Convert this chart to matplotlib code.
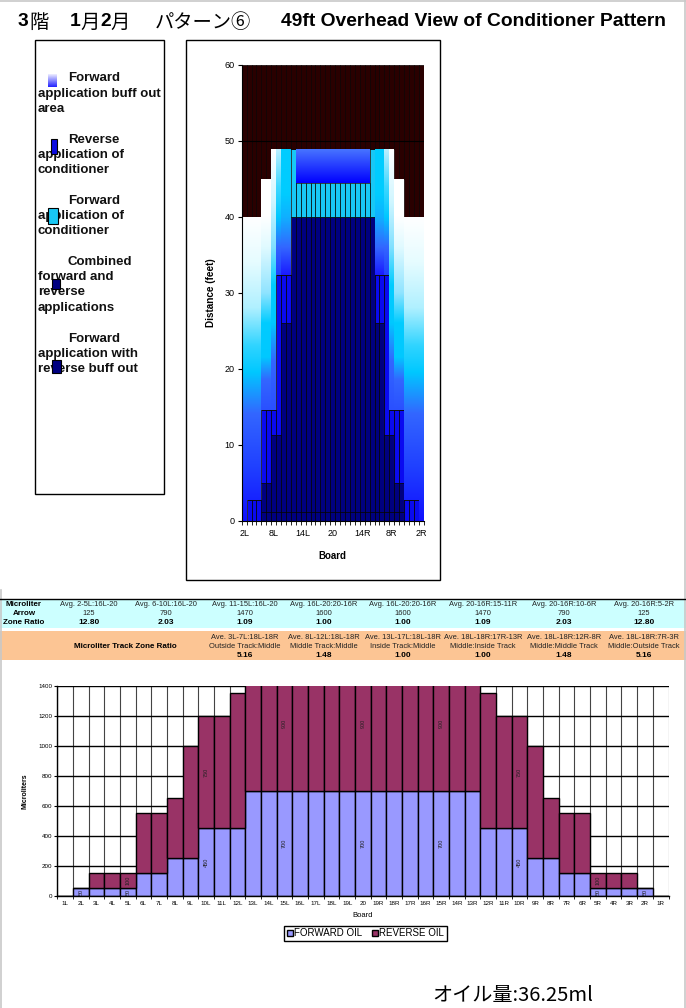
import numpy as np
import matplotlib
matplotlib.use("Agg")
import matplotlib.pyplot as plt
from matplotlib.patches import Rectangle
from matplotlib.colors import to_rgb
from matplotlib.lines import Line2D

plt.rcParams['font.family'] = ['Liberation Sans', 'Noto Sans CJK JP', 'DejaVu Sans']

# ---------------- data ----------------
top_boards = ['2L', '3L', '4L', '5L', '6L', '7L', '8L', '9L', '10L', '11L', '12L', '13L', '14L',
              '15L', '16L', '17L', '18L', '19L', '20', '19R', '18R', '17R', '16R', '15R', '14R',
              '13R', '12R', '11R', '10R', '9R', '8R', '7R', '6R', '5R', '4R', '3R', '2R']
fwd_rev_buff = [0, 0, 0, 0, 1.15, 1.15, 1.15, 1.15, 1.15, 1.15, 1.15, 1.15, 1.15, 1.15, 1.15, 1.15,
                1.15, 1.15, 1.15, 1.15, 1.15, 1.15, 1.15, 1.15, 1.15, 1.15, 1.15, 1.15, 1.15, 1.15,
                1.15, 1.15, 1.15, 0, 0, 0, 0]
combined = [0, 0, 0, 0, 3.85, 3.85, 10.15, 10.15, 24.85, 24.85, 38.85, 38.85, 38.85, 38.85, 38.85,
            38.85, 38.85, 38.85, 38.85, 38.85, 38.85, 38.85, 38.85, 38.85, 38.85, 38.85, 38.85,
            24.85, 24.85, 10.15, 10.15, 3.85, 3.85, 0, 0, 0, 0]
reverse_app = [0, 2.7, 2.7, 2.7, 9.6, 9.6, 3.3, 21.1, 6.4, 6.4, 0, 0, 0, 0, 0, 0, 0, 0, 0, 0, 0, 0,
               0, 0, 0, 0, 0, 6.4, 6.4, 21.1, 3.3, 9.6, 9.6, 2.7, 2.7, 2.7, 0]
forward_app = [0, 0, 0, 0, 0, 0, 0, 0, 0, 0, 9.0, 4.5, 4.5, 4.5, 4.5, 4.5, 4.5, 4.5, 4.5, 4.5, 4.5,
               4.5, 4.5, 4.5, 4.5, 4.5, 9.0, 0, 0, 0, 0, 0, 0, 0, 0, 0, 0]
buff_out = [40, 37.3, 37.3, 37.3, 30.4, 30.4, 34.4, 16.6, 16.6, 16.6, 0, 4.5, 4.5, 4.5, 4.5, 4.5,
            4.5, 4.5, 4.5, 4.5, 4.5, 4.5, 4.5, 4.5, 4.5, 4.5, 0, 16.6, 16.6, 16.6, 34.4, 30.4,
            30.4, 37.3, 37.3, 37.3, 40]
lane_end_low = [10, 10, 10, 10, 5, 5, 1, 1, 1, 1, 1, 1, 1, 1, 1, 1, 1, 1, 1, 1, 1, 1, 1, 1, 1, 1,
                1, 1, 1, 1, 1, 5, 5, 10, 10, 10, 10]
lane_end_high = [10] * 37

oil_boards = ['1L', '2L', '3L', '4L', '5L', '6L', '7L', '8L', '9L', '10L', '11L', '12L', '13L',
              '14L', '15L', '16L', '17L', '18L', '19L', '20', '19R', '18R', '17R', '16R', '15R',
              '14R', '13R', '12R', '11R', '10R', '9R', '8R', '7R', '6R', '5R', '4R', '3R', '2R', '1R']
forward_oil = [0, 50, 50, 50, 50, 150, 150, 250, 250, 450, 450, 450, 700, 700, 700, 700, 700, 700,
               700, 700, 700, 700, 700, 700, 700, 700, 700, 450, 450, 450, 250, 250, 150, 150, 50,
               50, 50, 50, 0]
reverse_oil = [0, 0, 100, 100, 100, 400, 400, 400, 750, 750, 750, 900, 900, 900, 900, 900, 900, 900,
               900, 900, 900, 900, 900, 900, 900, 900, 900, 900, 750, 750, 750, 400, 400, 400, 100,
               100, 100, 0, 0]
labelled_boards = ['2L', '5L', '10L', '15L', '20', '15R', '10R', '5R', '2R']

arrow_heads = ['Avg. 2-5L:16L-20', 'Avg. 6-10L:16L-20', 'Avg. 11-15L:16L-20', 'Avg. 16L-20:20-16R',
               'Avg. 16L-20:20-16R', 'Avg. 20-16R:15-11R', 'Avg. 20-16R:10-6R', 'Avg. 20-16R:5-2R']
arrow_vals = ['125', '790', '1470', '1600', '1600', '1470', '790', '125']
arrow_ratio = ['12.80', '2.03', '1.09', '1.00', '1.00', '1.09', '2.03', '12.80']
track_heads = ['Ave. 3L-7L:18L-18R', 'Ave. 8L-12L:18L-18R', 'Ave. 13L-17L:18L-18R',
               'Ave. 18L-18R:17R-13R', 'Ave. 18L-18R:12R-8R', 'Ave. 18L-18R:7R-3R']
track_desc = ['Outside Track:Middle', 'Middle Track:Middle', 'Inside Track:Middle',
              'Middle:Inside Track', 'Middle:Middle Track', 'Middle:Outside Track']
track_ratio = ['5.16', '1.48', '1.00', '1.00', '1.48', '5.16']

# gradient styles for buff-out segments (absolute feet, colour)
grad_styles = {
    'A': [(0, '#1010ff'), (7, '#2040ff'), (14, '#3366ff'), (19.5, '#00c8ff'), (23, '#30d4ff'),
          (28, '#b0f0ff'), (34, '#e6fcff'), (40, '#ffffff')],
    'B': [(14.6, '#2a50ff'), (18.5, '#3366ff'), (21.5, '#00c8ff'), (26, '#00ccff'), (30, '#90e4ff'),
          (36, '#e0faff'), (40, '#ffffff'), (45, '#ffffff')],
    'C': [(14.6, '#2a50ff'), (21, '#3366ff'), (26, '#00c8ff'), (31, '#00ccff'), (36, '#80e0ff'),
          (42, '#d0f6ff'), (49, '#ffffff')],
    'D': [(32.4, '#2040ff'), (36, '#3366ff'), (40, '#00c8ff'), (44, '#40d8ff'), (49, '#c0f0ff')],
    'E': [(32.4, '#1a1aff'), (36, '#3366ff'), (40, '#10b0ff'), (43, '#00ccff'), (49, '#00ccff')],
    'F': [(44.5, '#0000ff'), (49, '#4a78ff')],
    '-': [(0, '#ffffff'), (60, '#ffffff')],
}
buff_style = ['A', 'A', 'A', 'A', 'B', 'B', 'C', 'D', 'E', 'E', '-'] + ['F'] * 15 + \
             ['-', 'E', 'E', 'D', 'C', 'B', 'B', 'A', 'A', 'A', 'A']

W, H = 686, 1008
fig = plt.figure(figsize=(W / 100, H / 100), dpi=100)


def rect_px(x0, y0, x1, y1):
    return [x0 / W, 1 - y1 / H, (x1 - x0) / W, (y1 - y0) / H]


def fx(px):
    return px / W


def fy(py):
    return 1 - py / H


def grad_img(stops, y0, y1, n=256):
    ys = np.linspace(y0, y1, n)
    hs = [s[0] for s in stops]
    cs = np.array([to_rgb(s[1]) for s in stops])
    img = np.stack([np.interp(ys, hs, cs[:, k]) for k in range(3)], axis=-1)
    return img[:, None, :]


# ---------------- title ----------------
ty = fy(22)
tsz = 13.9
fig.text(fx(18), ty, '3', fontsize=tsz, fontweight='bold', va='center', ha='left')
fig.text(fx(29), ty, '階', fontsize=tsz, family=['Noto Sans CJK JP'], va='center', ha='left')
fig.text(fx(70), ty, '1', fontsize=tsz, fontweight='bold', va='center', ha='left')
fig.text(fx(80.5), ty, '月', fontsize=tsz, family=['Noto Sans CJK JP'], va='center', ha='left')
fig.text(fx(100), ty, '2', fontsize=tsz, fontweight='bold', va='center', ha='left')
fig.text(fx(110.5), ty, '月', fontsize=tsz, family=['Noto Sans CJK JP'], va='center', ha='left')
fig.text(fx(155), ty, 'パターン⑥', fontsize=tsz, family=['Noto Sans CJK JP'], va='center', ha='left')
fig.text(fx(281), ty, '49ft Overhead View of Conditioner Pattern', fontsize=tsz,
         fontweight='bold', va='center', ha='left')

# ---------------- frames ----------------
fig.add_artist(Rectangle((fx(186), fy(580)), (440 - 186) / W, (580 - 40) / H, fill=False,
                         edgecolor='black', lw=1.0, transform=fig.transFigure))
fig.add_artist(Rectangle((fx(35), fy(494)), (164 - 35) / W, (494 - 40) / H, fill=False,
                         edgecolor='black', lw=1.0, transform=fig.transFigure))
fig.add_artist(Line2D([0, 1], [fy(1), fy(1)], color='#c8c8c8', lw=1.2, transform=fig.transFigure))
fig.add_artist(Line2D([fx(685), fx(685)], [0, 1], color='#c8c8c8', lw=1.2, transform=fig.transFigure))
fig.add_artist(Line2D([fx(1), fx(1)], [0, fy(590)], color='#c8c8c8', lw=1.2, transform=fig.transFigure))

# ---------------- top-left legend ----------------
lsz = 9.5
leg_lines = [
    [(68, 78, 'Forward'), (38, 94, 'application buff out'), (38, 109, 'area')],
    [(68, 140, 'Reverse'), (38, 155, 'application of'), (38, 170, 'conditioner')],
    [(68, 201, 'Forward'), (38, 216, 'application of'), (38, 231, 'conditioner')],
    [(68, 262, 'Combined'), (38, 277, 'forward and'), (38, 292, 'reverse'), (38, 308, 'applications')],
    [(68, 339, 'Forward'), (38, 354, 'application with'), (38, 369, 'reverse buff out')],
]
for entry in leg_lines:
    for (x, y, s) in entry:
        fig.text(fx(x), fy(y), s, fontsize=lsz, fontweight='bold', va='center', ha='left',
                 color='#111111')

# icons
icon_ax = fig.add_axes(rect_px(47.5, 73.5, 56.5, 87), zorder=5)
icon_ax.imshow(grad_img([(0, '#2020ff'), (0.5, '#9090ff'), (1, '#ffffff')], 0, 1),
               extent=(0, 1, 0, 1), aspect='auto', origin='lower')
icon_ax.axis('off')
for (x0, y0, x1, y1, c) in [(50.7, 139.3, 57.3, 154.3, '#0a0ae0'),
                            (48.3, 208.3, 58.3, 224.3, '#18c8f5'),
                            (52.3, 279.3, 60, 289.3, '#000080'),
                            (51.7, 360, 61, 372.7, '#000080')]:
    fig.add_artist(Rectangle((fx(x0), fy(y1)), (x1 - x0) / W, (y1 - y0) / H, facecolor=c,
                             edgecolor='black', lw=0.8, transform=fig.transFigure, zorder=6))

# ---------------- top chart ----------------
ax1 = fig.add_axes(rect_px(241.7, 65, 423.7, 521))
xt = np.arange(len(top_boards))
bottom = np.zeros(len(top_boards))
ekw = dict(width=1.0, edgecolor='black', linewidth=0.5)
ax1.bar(xt, fwd_rev_buff, bottom=bottom, color='#000080', **ekw)
bottom += np.array(fwd_rev_buff)
ax1.bar(xt, combined, bottom=bottom, color='#000080', **ekw)
bottom += np.array(combined)
ax1.bar(xt, reverse_app, bottom=bottom, color='#0a0af0', **ekw)
bottom += np.array(reverse_app)
ax1.bar(xt, forward_app, bottom=bottom, color='#18c8f5', **ekw)
bottom += np.array(forward_app)
bars = ax1.bar(xt, buff_out, bottom=bottom, width=1.0, facecolor='none', edgecolor='none')
for i, b in enumerate(bars):
    if buff_out[i] <= 0:
        continue
    y0 = bottom[i]
    y1 = bottom[i] + buff_out[i]
    im = ax1.imshow(grad_img(grad_styles[buff_style[i]], y0, y1),
                    extent=(xt[i] - 0.5, xt[i] + 0.5, y0, y1), aspect='auto', origin='lower',
                    zorder=1.5)
    im.set_clip_path(b)
bottom += np.array(buff_out)
ax1.bar(xt, lane_end_low, bottom=bottom, color='#2a0000', width=1.0, edgecolor='#0a0000',
        linewidth=0.5)
bottom += np.array(lane_end_low)
ax1.bar(xt, lane_end_high, bottom=bottom, color='#2a0000', width=1.0, edgecolor='#0a0000',
        linewidth=0.5)
ax1.axhline(50, color='black', lw=0.8, zorder=3)

ax1.set_xlim(-0.5, len(top_boards) - 0.5)
ax1.set_ylim(0, 60)
ax1.set_aspect('auto')
ax1.set_yticks(np.arange(0, 61, 10))
ax1.tick_params(axis='y', labelsize=6.5, length=3, width=0.8, pad=2)
ax1.set_xticks(xt[::6])
ax1.set_xticklabels(top_boards[::6])
ax1.set_xticks(np.arange(-0.5, len(top_boards), 1), minor=True)
ax1.tick_params(axis='x', which='major', labelsize=6.5, length=0, pad=6)
ax1.tick_params(axis='x', which='minor', length=3, width=0.6)
for s in ['top', 'right']:
    ax1.spines[s].set_visible(False)
ax1.spines['left'].set_linewidth(0.8)
ax1.spines['bottom'].set_linewidth(0.8)
ax1.set_ylabel('Distance (feet)', fontsize=7.2, fontweight='bold', labelpad=6)
ax1.set_xlabel('Board', fontsize=7, fontweight='bold', labelpad=9)

# ---------------- tables ----------------
fig.add_artist(Rectangle((0, fy(628)), 1, (628 - 599) / H, facecolor='#ccffff', edgecolor='none',
                         transform=fig.transFigure, zorder=0))
fig.add_artist(Line2D([0, 1], [fy(598.5), fy(598.5)], color='black', lw=1.0,
                      transform=fig.transFigure))
fig.add_artist(Rectangle((0, fy(660)), 1, (660 - 631) / H, facecolor='#fcc594', edgecolor='none',
                         transform=fig.transFigure, zorder=0))
tfs = 5.4
for lab, y in [('Microliter', 604.5), ('Arrow', 613.5), ('Zone Ratio', 622.5)]:
    fig.text(fx(24), fy(y), lab, fontsize=tfs + 0.4, fontweight='bold', ha='center', va='center')
arrow_x = [89, 166, 245, 324, 403, 483, 564, 644]
for i in range(len(arrow_heads)):
    fig.text(fx(arrow_x[i]), fy(604.5), arrow_heads[i], fontsize=tfs, ha='center', va='center',
             color='#222222')
    fig.text(fx(arrow_x[i]), fy(613.5), arrow_vals[i], fontsize=tfs, ha='center', va='center',
             color='#222222')
    fig.text(fx(arrow_x[i]), fy(622.5), arrow_ratio[i], fontsize=tfs + 0.6, fontweight='bold',
             ha='center', va='center')
fig.text(fx(125), fy(646.5), 'Microliter Track Zone Ratio', fontsize=tfs + 0.4, fontweight='bold',
         ha='center', va='center')
track_x = arrow_x[2:]
for i in range(len(track_heads)):
    fig.text(fx(track_x[i]), fy(637.5), track_heads[i], fontsize=tfs, ha='center', va='center',
             color='#222222')
    fig.text(fx(track_x[i]), fy(646.5), track_desc[i], fontsize=tfs, ha='center', va='center',
             color='#222222')
    fig.text(fx(track_x[i]), fy(655.5), track_ratio[i], fontsize=tfs + 0.6, fontweight='bold',
             ha='center', va='center')

# ---------------- bottom chart ----------------
ax2 = fig.add_axes(rect_px(57.3, 686, 668.5, 895.7))
xo = np.arange(len(oil_boards))
for k in range(200, 1401, 200):
    ax2.axhline(k, color='black', lw=1.0, zorder=0.5)
for k in np.arange(-0.5, len(oil_boards) + 0.5, 1):
    ax2.axvline(k, color='#444444', lw=0.8, zorder=0.4)
fw = ax2.bar(xo, forward_oil, width=1.0, color='#9999ff', edgecolor='black', linewidth=1.0,
             label='FORWARD OIL', zorder=2)
rv = ax2.bar(xo, reverse_oil, bottom=forward_oil, width=1.0, color='#993366', edgecolor='black',
             linewidth=1.0, label='REVERSE OIL', zorder=2)
for b in labelled_boards:
    i = oil_boards.index(b)
    if forward_oil[i] > 0:
        ax2.text(i, forward_oil[i] / 2, str(forward_oil[i]), rotation=90, fontsize=4,
                 ha='center', va='center', zorder=4, color='#222222')
    if reverse_oil[i] > 0:
        ax2.text(i, forward_oil[i] + reverse_oil[i] / 2, str(reverse_oil[i]), rotation=90,
                 fontsize=4, ha='center', va='center', zorder=4, color='#222222')
ax2.set_xlim(-0.5, len(oil_boards) - 0.5)
ax2.set_ylim(0, 1400)
ax2.set_yticks(np.arange(0, 1401, 200))
ax2.tick_params(axis='y', labelsize=4.5, length=2, width=0.8, pad=1.5)
ax2.set_xticks(xo)
ax2.set_xticklabels(oil_boards)
ax2.set_xticks(np.arange(-0.5, len(oil_boards), 1), minor=True)
ax2.tick_params(axis='x', which='major', labelsize=4.5, length=0, pad=4)
ax2.tick_params(axis='x', which='minor', length=2, width=0.6)
for s in ['top', 'right']:
    ax2.spines[s].set_visible(False)
ax2.spines['left'].set_linewidth(1.0)
ax2.spines['bottom'].set_linewidth(1.0)
ax2.set_ylabel('Microliters', fontsize=5, fontweight='bold', labelpad=7)
ax2.set_xlabel('Board', fontsize=5.5, labelpad=4)
fig.legend(handles=[fw, rv], loc='center', bbox_to_anchor=(fx(365.5), fy(933.5)), ncol=2,
           fontsize=7, frameon=True, fancybox=False, edgecolor='black', handlelength=0.6,
           handleheight=0.6, handletextpad=0.15, columnspacing=1.0, borderpad=0.3,
           framealpha=1)

fig.text(fx(432), fy(996), 'オイル量:36.25ml', fontsize=14.5, family=['Noto Sans CJK JP'],
         ha='left', va='center')

fig.savefig('out.png', dpi=100)
